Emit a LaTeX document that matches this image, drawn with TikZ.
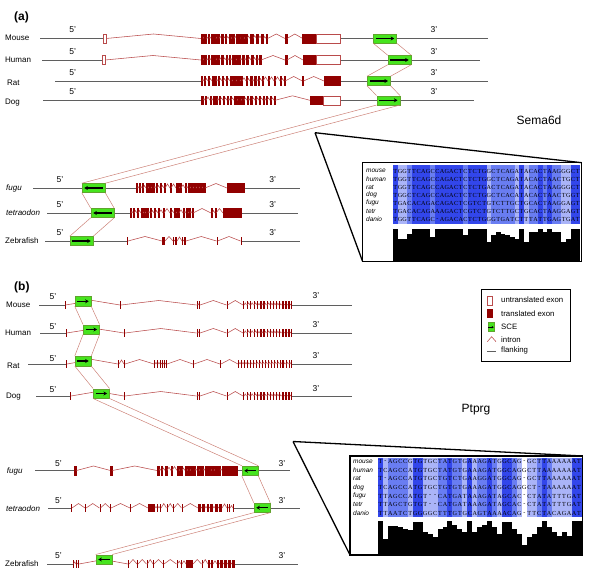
\documentclass[tikz,border=0pt]{standalone}
\usepackage{fontspec}
\setmainfont{Liberation Sans}
\newfontfamily\seqfont{Liberation Serif}
\usetikzlibrary{arrows.meta}
\definecolor{exonred}{RGB}{145,0,0}
\definecolor{intronred}{RGB}{185,75,75}
\definecolor{linkred}{RGB}{205,130,120}
\definecolor{flankgray}{RGB}{95,95,95}
\definecolor{scegreen}{RGB}{70,228,30}
\definecolor{sceborder}{RGB}{95,165,45}
\definecolor{blueA}{RGB}{50,70,235}
\definecolor{blueB}{RGB}{105,125,242}
\definecolor{blueC}{RGB}{170,180,248}
\tikzset{
 flank/.style={flankgray, line width=1pt},
 intron/.style={intronred, line width=0.55pt},
 exon/.style={fill=exonred, draw=exonred, line width=0.5pt},
 exonthin/.style={fill=exonred, draw=none},
 utr/.style={draw=intronred, fill=white, line width=0.5pt},
 link/.style={linkred, line width=0.5pt},
 sceA/.style={draw=sceborder, fill=scegreen, line width=0.5pt, minimum width=23pt, minimum height=9pt, inner sep=0pt},
 sceB/.style={sceA, minimum width=16pt, minimum height=9.5pt},
 species/.style={anchor=west, font=\fontsize{8}{9}\selectfont, inner sep=0pt},
 itspecies/.style={species, font=\itshape\fontsize{8}{9}\selectfont},
 prime/.style={font=\fontsize{8.5}{9}\selectfont, inner sep=0pt},
 callout/.style={black, line width=1.3pt, line join=miter},
 seqch/.style={font=\seqfont\fontsize{6.2}{6}\selectfont, inner sep=0pt, anchor=center},
 seqname/.style={font=\itshape\fontsize{6.5}{7}\selectfont, anchor=west, inner sep=0pt},
 legtext/.style={anchor=west, font=\fontsize{7.8}{8}\selectfont, inner sep=0pt},
 genename/.style={font=\fontsize{12}{12}\selectfont, inner sep=0pt},
 panel/.style={anchor=west, font=\bfseries\fontsize{12}{12}\selectfont, inner sep=0pt},
 scearrow/.style={-{Stealth[length=3.6pt,width=4pt]}, line width=1.2pt, black},
}
\newcommand\exonrow[3][exon]{%
  \foreach \ea/\eb [remember=\eb as \ep (initially -1)] in {#3} {%
    \ifdim\ep pt>0pt
      \pgfmathsetmacro\pk{min(4.5,(\ea-\ep)*0.8)}%
      \draw[intron] (\ep,#2) -- ({(\ep+\ea)/2},{#2-\pk}) -- (\ea,#2);
    \fi
    \filldraw[#1] (\ea,{#2-4.4}) rectangle (\eb,{#2+4.4});
  }}
\newcommand\sceR[1]{\draw[scearrow] ([xshift=2.5pt]#1.west) -- ([xshift=-2.5pt]#1.east);}
\newcommand\sceL[1]{\draw[scearrow] ([xshift=-2.5pt]#1.east) -- ([xshift=2.5pt]#1.west);}
\newcount\seqn
\def\putseq#1#2#3#4{\global\seqn=0 \def\sqx{#1}\def\sqy{#2}\def\sqd{#3}\seqloop#4\relax}
\def\seqloop#1{\ifx\relax#1\else\node[seqch] at ({\sqx+(\the\seqn+0.5)*\sqd},\sqy) {#1};\global\advance\seqn by 1 \expandafter\seqloop\fi}
\newcommand\shadecols[7]{% x0, dx, ytop, yshadebottom, ybottom, histheight, list
  \foreach \h [count=\i from 0] in {#7} {%
    \pgfmathsetmacro\xl{#1+\i*#2}%
    \ifdim\h pt>0.92pt \def\cc{blueA}\else\ifdim\h pt>0.72pt \def\cc{blueB}\else\ifdim\h pt>0.4pt \def\cc{blueC}\else\def\cc{white}\fi\fi\fi
    \fill[\cc] (\xl,#3) rectangle ({\xl+#2+0.05},#4);
    \fill[black] (\xl,#5) rectangle ({\xl+#2+0.05},{#5-#6*\h});
  }}
\begin{document}
\begin{tikzpicture}[x=1pt,y=-1pt]
\useasboundingbox (0,0) rectangle (600,573);

%================ PANEL A =================
\node[panel] (pa) at (14,17) {(a)};
\node[species] (amouse) at (5,38) {Mouse};
\node[species] (ahuman) at (5,60) {Human};
\node[species] (arat) at (7,82.5) {Rat};
\node[species] (adog) at (5,103) {Dog};
\node[itspecies] (afugu) at (6,188.3) {fugu};
\node[itspecies] (atetr) at (6,212.7) {tetraodon};
\node[species] (azeb) at (5,240.7) {Zebrafish};
\foreach \yy/\nm in {30/a1,51.7/a2,72.7/a3,91.7/a4}{
  \node[prime] (f\nm) at (72.7,\yy) {5'};
  \node[prime] (t\nm) at (434,\yy) {3'};}
\foreach \yy/\nm in {180/a5,205/a6,232.7/a7}{
  \node[prime] (f\nm) at (60,\yy) {5'};
  \node[prime] (t\nm) at (272.7,\yy) {3'};}

% flanking
\draw[flank] (40,38.5) -- (103,38.5) (340,38.5) -- (487.7,38.5);
\draw[flank] (42,60) -- (102,60) (340,60) -- (480,60);
\draw[flank] (55,81) -- (201,81) (340,81) -- (488,81);
\draw[flank] (43,100.3) -- (201,100.3) (340,100.3) -- (474,100.3);
\draw[flank] (33,188) -- (136.5,188) (244,188) -- (300,188);
\draw[flank] (47,213) -- (130,213) (241,213) -- (298,213);
\draw[flank] (45,241) -- (127,241) (241.5,241) -- (300,241);

% exons
\exonrow{38.5}{103/106, 201/203, 204.5/206.5, 208/209, 211/216, 217.5/219, 221.5/223.5, 225.5/226.5, 229/231, 232/234, 236.5/240.5, 241.5/244, 245/247, 250/253, 256.5/258.5, 261.5/263.5, 266/267.5, 285/287, 302.7/316}
\draw[utr] (103,34) rectangle (106,43) (316,34) rectangle (340,43);
\exonrow{60}{102/105, 201/203, 204.5/206.5, 208/209, 211/216, 217.5/219, 221.5/223.5, 226/227, 229/230, 232/236, 237/240, 242/244, 246/248, 251/253, 256/257, 259/261, 285/287, 303/316}
\draw[utr] (102,55.5) rectangle (105,64.5) (316,55.5) rectangle (340,64.5);
\exonrow{81}{201/202, 204/205, 208/209, 212/216, 218/219, 222/223, 226/227, 230/232, 233/236, 237/240, 241/242, 246/247, 250/252, 254/256, 258/259, 262/263, 268/269, 274/275, 280/281, 284/285, 302.5/303.5, 324/340}
\exonrow{100.3}{201/203, 205/206, 210/211, 213/217, 219/220, 223/224, 227/228, 230/231, 234/237, 238/241, 242/244, 247/248, 250/252, 255/256, 259/260, 263/264, 266/267, 270/271, 274/275, 310/323}
\draw[utr] (323,95.8) rectangle (340,104.8);
\exonrow{188}{136.5/137.5, 139/140, 142/143, 146/148, 149/151, 152/154, 156/157, 160/161, 164/165, 170/171, 176/179, 180/181, 185/186, 188/190, 191/193, 194/196, 197/199, 200/202, 203/205, 227/244}
\exonrow{213}{130/131, 133/134, 137/138, 141/143, 144/145, 146/148, 150/151, 154/155, 158/159, 163/164, 170/171, 174/176, 177/179, 183/184, 186/188, 189/190, 192/193, 211/212, 215/216, 223/241}
\exonrow[exonthin]{241}{127/128, 162/165, 173/174, 175/177, 182/183, 184/186, 216.5/217.5, 240.5/241.5}

% SCE nodes
\node[sceA] (sa1) at (385,38.5) {};
\node[sceA] (sa2) at (399.5,60) {};
\node[sceA] (sa3) at (378.8,81) {};
\node[sceA] (sa4) at (388.3,100.3) {};
\node[sceA] (sa5) at (93.5,188) {};
\node[sceA] (sa6) at (102.5,213) {};
\node[sceA] (sa7) at (81.5,241) {};
\draw[link] (sa1.south west) -- (sa2.north west) (sa1.south east) -- (sa2.north east);
\draw[link] (sa2.south west) -- (sa3.north west) (sa2.south east) -- (sa3.north east);
\draw[link] (sa3.south west) -- (sa4.north west) (sa3.south east) -- (sa4.north east);
\draw[link] (sa4.south west) -- (sa5.north west) (sa4.south east) -- (sa5.north east);
\draw[link] (sa5.south west) -- (sa6.north west) (sa5.south east) -- (sa6.north east);
\draw[link] (sa6.south west) -- (sa7.north west) (sa6.south east) -- (sa7.north east);
\sceR{sa1}\sceR{sa2}\sceR{sa3}\sceR{sa4}\sceL{sa5}\sceL{sa6}\sceR{sa7}

\node[genename] (gsema) at (539,120.5) {Sema6d};

% alignment A
\shadecols{393}{4.675}{164.5}{223.5}{261}{32}{1,0.7,0.7,0.85,1,1,1,1,0.75,1,1,1,1,1,1,0.8,1,1,1,1,0.6,0.8,0.9,0.85,0.8,0.75,0.7,1,0.6,0.9,0.9,1,0.9,1,0.9,0.9,0.6,0.7,1,1}
\coordinate (capA) at (315,132.7);
\draw[callout] (362.7,162.7) rectangle (581.7,261.7);
\draw[callout] (capA) -- (581.7,162.7) (capA) -- (362.7,261.7);
\foreach \nm [count=\k from 0] in {mouse,human,rat,dog,fugu,tetr,danio}
  \node[seqname] (na\k) at (366,{171+\k*8.05}) {\nm};
\putseq{393}{171}{4.675}{TGGTTCAGCCAGACTCTCTGGCTCAGATACACTAAGGGCT}
\putseq{393}{179.05}{4.675}{TGGTTCAGCCAGACTCTCTGGCTCAGATACACTAACTGCT}
\putseq{393}{187.1}{4.675}{TGGTTCAGCCAGACTCTCTGACTCAGATACACTAAGGGCT}
\putseq{393}{195.15}{4.675}{TGGCTCAGCCAGACTCTCTGGCTCACATACACTAACTGGT}
\putseq{393}{203.2}{4.675}{TGACACAGACAGACTCGTCTGTCTTGCTGCACTAAGGAGT}
\putseq{393}{211.25}{4.675}{TGACACAGAAAGACTCGTCTGTCTTGCTGCACTAAGGAGT}
\putseq{393}{219.3}{4.675}{TGGTTCAGC-AGACACTCTGGGTGATCTTTATTGAGTGAT}

%================ PANEL B =================
\node[panel] (pb) at (14,287) {(b)};
\node[species] (bmouse) at (6,305) {Mouse};
\node[species] (bhuman) at (5,333) {Human};
\node[species] (brat) at (7,366) {Rat};
\node[species] (bdog) at (6,397) {Dog};
\node[itspecies] (bfugu) at (6.7,471) {fugu};
\node[itspecies] (btetr) at (6,508.3) {tetraodon};
\node[species] (bzeb) at (5,564) {Zebrafish};
\foreach \yy/\zz/\nm in {296.7/296/b1,326.7/325/b2,358.3/356/b3,390/388.3/b4}{
  \node[prime] (f\nm) at (53,\yy) {5'};
  \node[prime] (t\nm) at (316,\zz) {3'};}
\foreach \yy/\nm in {464/b5,500.5/b6,555.5/b7}{
  \node[prime] (f\nm) at (58.5,\yy) {5'};
  \node[prime] (t\nm) at (282,\yy) {3'};}

\draw[flank] (39,305) -- (64.5,305) (292,305) -- (352,305);
\draw[flank] (40,333) -- (65.5,333) (292,333) -- (352,333);
\draw[flank] (28,364) -- (66,364) (292,364) -- (352,364);
\draw[flank] (36,396) -- (70,396) (292,396) -- (352,396);
\draw[flank] (35,470.5) -- (74.5,470.5) (237,470.5) -- (290,470.5);
\draw[flank] (48,508) -- (71,508) (234,508) -- (300,508);
\draw[flank] (47,564) -- (72.5,564) (235,564) -- (298,564);

\exonrow[exonthin]{305}{64.5/65.5, 120/121, 196.5/197.5, 199/200, 226.5/227.5, 243/244, 246.5/247.3, 250/250.8, 253.5/254.3, 257/258, 260/261.5, 263/264.5, 266.5/267.5, 270/270.8, 273/273.8, 276/276.8, 279/280, 281.5/284, 284.7/287, 287.6/290, 291/292}
\exonrow[exonthin]{333}{65.5/66.5, 124/125, 196.5/197.5, 199/200, 226.5/227.5, 243/244, 246.5/247.3, 250/250.8, 253.5/254.3, 257/258, 260/261.5, 263/264.5, 266.5/267.5, 270/270.8, 273/273.8, 276/276.8, 279/280, 281.5/284, 284.7/287, 287.6/290, 291/292}
\exonrow[exonthin]{364}{66/67, 118/119, 124/125, 154/155, 157/158, 160/161, 162/163, 164/165, 166/167, 193/194, 220/221, 238/239, 241/242, 244/245, 247/248, 249.5/251, 252.5/254, 255.5/256.3, 258.5/259.3, 261.5/262.3, 264.5/265.3, 267.5/268.3, 270.5/271.3, 273.5/274.3, 276.5/277.3, 279.5/280.5, 282/284, 285.5/286.5, 288.5/289.3, 291/292}
\exonrow[exonthin]{396}{70/71, 124/125, 196.5/197.5, 199/200, 226.5/227.5, 243/244, 246.5/247.3, 250/250.8, 253.5/254.3, 257/258, 260/261.5, 263/264.5, 266.5/267.5, 270/270.8, 273/273.8, 276/276.8, 279/280, 281.5/284, 284.7/287, 287.6/290, 291/292}
\exonrow{470.5}{74.5/76.5, 110.5/112.5, 157/159, 161/162, 165/167, 171/172, 177/179, 180/182, 185/187, 188/190, 191/195, 197/199, 200/203, 205/211, 212/214, 215/220, 222/237}
\exonrow[exonthin]{508}{71/72, 85/86, 99.5/100.5, 110/111, 130/131, 148/155, 157/158, 160/161, 166.5/167.5, 173/174, 181.5/182.5, 198/201, 202/205, 207/209, 210/213, 215/218, 219/222, 227/228, 229/230, 233/234}
\exonrow[exonthin]{564}{72.5/73.5, 76/77, 78/79, 128/129, 137/138, 146.5/147.5, 153/154, 163/164, 176.5/177.5, 181/182, 186/193, 201.5/202.5, 208/210, 211/213, 217/219, 220/223, 224/227, 228/231, 232/235}

\node[sceB] (sb1) at (83,301.3) {};
\node[sceB] (sb2) at (91.3,329.5) {};
\node[sceB] (sb3) at (83,361) {};
\node[sceB] (sb4) at (101.3,393.5) {};
\node[sceB] (sb5) at (250,470.7) {};
\node[sceB] (sb6) at (262,507.7) {};
\node[sceB] (sb7) at (104,559.5) {};
\draw[link] (sb1.south west) -- (sb2.north west) (sb1.south east) -- (sb2.north east);
\draw[link] (sb2.south west) -- (sb3.north west) (sb2.south east) -- (sb3.north east);
\draw[link] (sb3.south west) -- (sb4.north west) (sb3.south east) -- (sb4.north east);
\draw[link] (sb4.south west) -- (sb5.north west) (sb4.south east) -- (sb5.north east);
\draw[link] (sb5.south west) -- (sb6.north west) (sb5.south east) -- (sb6.north east);
\draw[link] (sb6.south west) -- (sb7.north west) (sb6.south east) -- (sb7.north east);
\sceR{sb1}\sceR{sb2}\sceR{sb3}\sceR{sb4}\sceL{sb5}\sceL{sb6}\sceL{sb7}

\node[genename] (gptprg) at (476,410) {Ptprg};

% legend
\draw[line width=0.8pt] (481.7,289.3) rectangle (570.7,361);
\draw[utr] (487,296) rectangle (492.5,305);
\node[legtext] (l1) at (501,299.3) {untranslated exon};
\fill[exonred] (487.3,309.3) rectangle (492.7,317.7);
\node[legtext] (l2) at (501,313.3) {translated exon};
\node[draw=sceborder, fill=scegreen, line width=0.5pt, minimum width=6.5pt, minimum height=9pt, inner sep=0pt] (lsce) at (491,327.2) {};
\draw[-{Stealth[length=2pt,width=2.5pt]}, line width=0.8pt] ([xshift=0.8pt]lsce.west) -- ([xshift=-0.8pt]lsce.east);
\node[legtext] (l3) at (501,326.7) {SCE};
\draw[intron] (487.3,341.7) -- (491.6,336.7) -- (496,341.7);
\node[legtext] (l4) at (501,339.3) {intron};
\draw[flank] (487.3,351) -- (496,351);
\node[legtext] (l5) at (501,350.7) {flanking};

% alignment B
\shadecols{378}{4.963}{457.5}{517}{554.5}{34}{1,0.47,0.85,0.85,0.8,0.76,0.71,0.95,0.95,0.66,0.61,0.52,0.76,0.8,0.98,0.88,0.76,0.66,1,0.66,0.8,0.88,0.98,0.8,0.61,0.95,0.95,0.76,0.61,0.27,0.52,0.61,0.8,1,0.8,0.66,0.53,0.66,0.53,0.98,0.98}
\coordinate (capB) at (293,441.5);
\draw[callout] (350,456) rectangle (582.7,555);
\draw[callout] (capB) -- (582.7,456) (capB) -- (350,555);
\foreach \nm [count=\k from 0] in {mouse,human,rat,dog,fugu,tetr,danio}
  \node[seqname] (nb\k) at (353,{461.7+\k*8.6}) {\nm};
\putseq{378}{461.7}{4.963}{T-AGCCGTGTGCTATGTGAAAGATGGCAG-GCTTAAAAAAT}
\putseq{378}{470.3}{4.963}{TCAGCCATGTGCTATGTGAAAGATGGCAGGCTTAAAAAAAT}
\putseq{378}{478.9}{4.963}{T-AGCCATGTGCTGTCTGAAGGATGGCAG-GCTTAAAAAAT}
\putseq{378}{487.5}{4.963}{TCAGCCATGTGCTGTGTGAAAGATGGCAGGCT-TAAAAAAT}
\putseq{378}{496.1}{4.963}{TTAGCCATGT--CATGATAAAGATAGCAC-CTATATTTGAT}
\putseq{378}{504.7}{4.963}{TTAGCTGTGT--CATGATAAAGATAGCAC-CTATATTTGAT}
\putseq{378}{513.3}{4.963}{TTAATCTGGGGCTTTGTGCAGTAAAACAG-TTCTACAGAAT}
\end{tikzpicture}
\end{document}
